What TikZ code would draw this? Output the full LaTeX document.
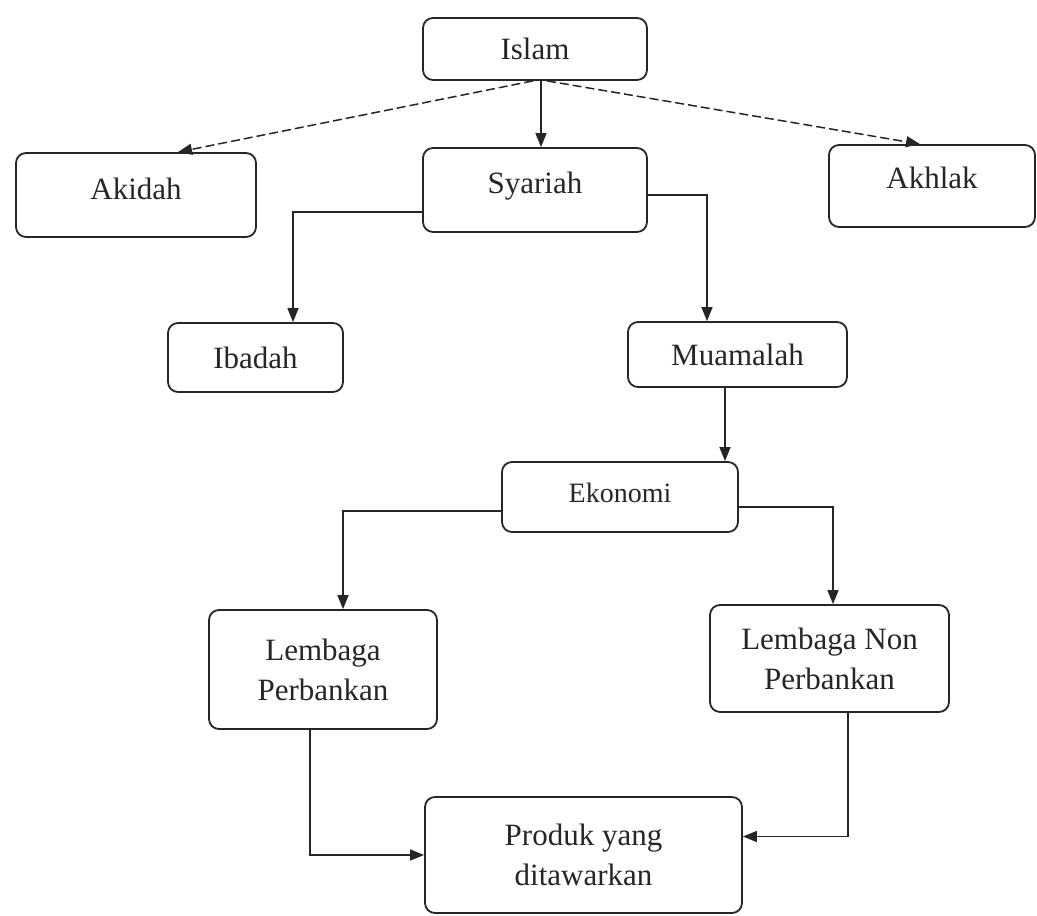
\documentclass[tikz,border=0pt]{standalone}
\usepackage{fontspec}
\setmainfont{Liberation Serif}
\usetikzlibrary{arrows.meta}
\begin{document}
\begin{tikzpicture}[x=1pt,y=-1pt,
  box/.style={draw=black!85, line width=1.8pt, rounded corners=10pt, inner sep=0pt,
    align=center, text=black!85, font=\fontsize{31}{40}\selectfont},
  conn/.style={draw=black!85, line width=1.5pt, -{Triangle[length=14pt,width=11pt]}},
  dconn/.style={conn, dash pattern=on 9pt off 4pt}]
\useasboundingbox (0,0) rectangle (1037,916);

\node[box, minimum width=224pt, minimum height=62pt] (islam) at (535,49) {Islam};
\node[box, minimum width=240pt, minimum height=84pt, text depth=13.5pt] (akidah) at (136,195) {Akidah};
\node[box, minimum width=224pt, minimum height=84pt, text depth=14pt] (syariah) at (535,190) {Syariah};
\node[box, minimum width=206pt, minimum height=82pt, text depth=17pt] (akhlak) at (932,186) {Akhlak};
\node[box, minimum width=175pt, minimum height=69pt] (ibadah) at (255.5,357.5) {Ibadah};
\node[box, minimum width=219pt, minimum height=65pt] (muamalah) at (737.5,354.5) {Muamalah};
\node[box, minimum width=236pt, minimum height=70pt, text depth=9pt, font=\fontsize{28}{34}\selectfont] (ekonomi) at (620,497) {Ekonomi};
\node[box, minimum width=228pt, minimum height=119pt] (lp) at (323,669.5) {Lembaga\\Perbankan};
\node[box, minimum width=239pt, minimum height=107pt] (lnp) at (829.5,658.5) {Lembaga Non\\Perbankan};
\node[box, minimum width=317pt, minimum height=116pt] (produk) at (583.5,855) {Produk yang\\ditawarkan};

\draw[conn] ([xshift=6pt]islam.south) -- ([xshift=6pt]syariah.north);
\draw[dconn] ([xshift=-2pt]islam.south) -- ([xshift=42pt]akidah.north);
\draw[dconn] ([xshift=12pt]islam.south) -- ([xshift=-12pt]akhlak.north);
\draw[conn] ([yshift=-22pt]syariah.west) -| ([xshift=37.5pt]ibadah.north);
\draw[conn] ([yshift=-5pt]syariah.east) -| ([xshift=-30.5pt]muamalah.north);
\draw[conn] ([xshift=-12.5pt]muamalah.south) -- ([xshift=-12.5pt]muamalah.south |- ekonomi.north);
\draw[conn] ([yshift=-14pt]ekonomi.west) -| ([xshift=20pt]lp.north);
\draw[conn] ([yshift=-10pt]ekonomi.east) -| ([xshift=3.5pt]lnp.north);
\draw[conn] ([xshift=-13pt]lp.south) |- (produk.west);
\draw[conn] ([xshift=18.5pt]lnp.south) |- ([yshift=18.5pt]produk.east);
\end{tikzpicture}
\end{document}
